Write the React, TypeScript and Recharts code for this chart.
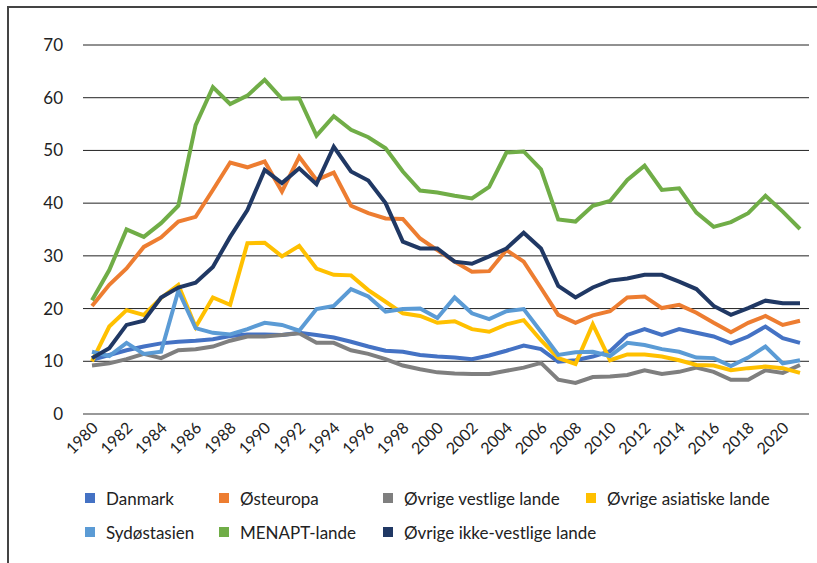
import { LineChart, Line, XAxis, YAxis, CartesianGrid } from 'recharts';

const years = [
  1980, 1981, 1982, 1983, 1984, 1985, 1986, 1987, 1988, 1989,
  1990, 1991, 1992, 1993, 1994, 1995, 1996, 1997, 1998, 1999,
  2000, 2001, 2002, 2003, 2004, 2005, 2006, 2007, 2008, 2009,
  2010, 2011, 2012, 2013, 2014, 2015, 2016, 2017, 2018, 2019,
  2020, 2021,
];

const danmark = [
  10.3, 11.2, 12.1, 12.8, 13.4, 13.7, 13.9, 14.2, 14.8, 15.1,
  15.1, 15.0, 15.4, 15.0, 14.5, 13.7, 12.8, 12.0, 11.8, 11.2,
  10.9, 10.7, 10.4, 11.1, 12.0, 13.0, 12.3, 9.9, 10.2, 10.9,
  11.9, 15.0, 16.1, 15.0, 16.1, 15.4, 14.7, 13.4, 14.7, 16.6,
  14.4, 13.5,
];

const osteuropa = [
  20.5, 24.5, 27.6, 31.7, 33.5, 36.5, 37.4, 42.5, 47.7, 46.8,
  47.9, 42.2, 48.8, 44.4, 45.8, 39.5, 38.1, 37.1, 37.0, 33.3,
  31.1, 28.9, 27.0, 27.1, 31.1, 28.9, 23.9, 18.8, 17.3, 18.7,
  19.5, 22.1, 22.3, 20.1, 20.7, 19.2, 17.3, 15.5, 17.3, 18.6,
  16.9, 17.7,
];

const vestlige = [
  9.2, 9.6, 10.4, 11.4, 10.6, 12.1, 12.3, 12.8, 13.9, 14.7,
  14.7, 15.0, 15.3, 13.5, 13.5, 12.1, 11.4, 10.4, 9.2, 8.5,
  7.9, 7.7, 7.6, 7.6, 8.2, 8.8, 9.7, 6.5, 5.9, 7.0,
  7.1, 7.4, 8.3, 7.6, 8.0, 8.8, 8.0, 6.5, 6.5, 8.3,
  7.8, 9.3,
];

const asiatiske = [
  10.0, 16.6, 19.7, 18.8, 22.0, 24.5, 16.5, 22.1, 20.7, 32.4,
  32.5, 29.9, 31.9, 27.6, 26.4, 26.3, 23.5, 21.3, 19.1, 18.6,
  17.3, 17.6, 16.1, 15.6, 17.0, 17.8, 14.0, 10.6, 9.5, 17.0,
  10.2, 11.3, 11.3, 10.9, 10.2, 9.3, 9.2, 8.3, 8.7, 9.0,
  8.7, 7.8,
];

const sydostasien = [
  11.8, 11.0, 13.5, 11.4, 11.8, 23.4, 16.3, 15.4, 15.1, 16.1,
  17.3, 16.9, 15.8, 19.9, 20.5, 23.7, 22.3, 19.4, 19.9, 20.0,
  18.2, 22.1, 19.1, 18.0, 19.5, 19.9, 15.6, 11.2, 11.7, 11.8,
  11.0, 13.5, 13.1, 12.3, 11.8, 10.7, 10.6, 9.1, 10.7, 12.8,
  9.6, 10.2,
];

const menapt = [
  21.6, 27.3, 35.0, 33.6, 36.2, 39.5, 54.8, 62.0, 58.8, 60.4,
  63.4, 59.8, 59.9, 52.8, 56.5, 53.9, 52.5, 50.4, 46.0, 42.4,
  42.0, 41.4, 40.9, 43.1, 49.6, 49.8, 46.4, 36.9, 36.5, 39.5,
  40.4, 44.4, 47.1, 42.5, 42.8, 38.2, 35.5, 36.4, 38.1, 41.4,
  38.4, 35.1,
];

const ikkeVestlige = [
  10.6, 12.5, 16.9, 17.7, 22.1, 24.0, 24.9, 27.9, 33.6, 38.7,
  46.3, 43.8, 46.6, 43.6, 50.7, 46.0, 44.3, 40.0, 32.7, 31.4,
  31.4, 28.9, 28.5, 29.9, 31.4, 34.4, 31.4, 24.3, 22.1, 24.0,
  25.3, 25.7, 26.4, 26.4, 25.1, 23.7, 20.5, 18.8, 20.1, 21.5,
  21.0, 21.0,
];

const yTicks = [0, 10, 20, 30, 40, 50, 60, 70];

const series = [
  { key: 'danmark', name: 'Danmark', color: '#4472C4', values: danmark },
  { key: 'osteuropa', name: 'Østeuropa', color: '#ED7D31', values: osteuropa },
  { key: 'vestlige', name: 'Øvrige vestlige lande', color: '#7F7F7F', values: vestlige },
  { key: 'asiatiske', name: 'Øvrige asiatiske lande', color: '#FFC000', values: asiatiske },
  { key: 'sydostasien', name: 'Sydøstasien', color: '#5B9BD5', values: sydostasien },
  { key: 'menapt', name: 'MENAPT-lande', color: '#70AD47', values: menapt },
  { key: 'ikkeVestlige', name: 'Øvrige ikke-vestlige lande', color: '#203864', values: ikkeVestlige },
];

const data = years.map((year, i) => {
  const row: Record<string, number | string> = { year: String(year) };
  series.forEach((s) => {
    row[s.key] = s.values[i];
  });
  return row;
});

const FONT = 'Lato, "Noto Sans", sans-serif';

// legend placement, two rows like the original
const legendRows = [
  [
    { i: 0, x: 85 },
    { i: 1, x: 219 },
    { i: 2, x: 383 },
    { i: 3, x: 586 },
  ],
  [
    { i: 4, x: 85 },
    { i: 5, x: 219 },
    { i: 6, x: 383 },
  ],
];

function YearTick(props: any) {
  const { x, y, payload } = props;
  const tx = x + 7;
  const ty = y + 13;
  return (
    <text
      x={tx}
      y={ty}
      textAnchor="end"
      fontSize={16}
      fill="#222"
      fontFamily={FONT}
      transform={`rotate(-45, ${tx}, ${ty})`}
    >
      {payload.value}
    </text>
  );
}

export default function App() {
  return (
    <div
      style={{
        position: 'absolute',
        left: 0,
        top: 0,
        width: 817,
        height: 563,
        background: '#fff',
        fontFamily: FONT,
        overflow: 'hidden',
      }}
    >
      <div
        style={{
          position: 'absolute',
          left: 7,
          top: 6,
          width: 830,
          height: 580,
          borderTop: '2px solid #444',
          borderLeft: '2px solid #444',
        }}
      />
      <LineChart
        width={817}
        height={563}
        data={data}
        margin={{ top: 45, right: 8, left: 0, bottom: 0 }}
        style={{ position: 'absolute', left: 0, top: 0 }}
      >
        <CartesianGrid vertical={false} stroke="#222" strokeWidth={1} />
        <XAxis
          dataKey="year"
          interval={1}
          height={149}
          padding={{ left: 9, right: 9 }}
          axisLine={{ stroke: '#999', strokeWidth: 2 }}
          tickLine={false}
          tickSize={0}
          tick={<YearTick />}
        />
        <YAxis
          width={83}
          domain={[0, 70]}
          ticks={yTicks}
          axisLine={false}
          tickLine={false}
          tickSize={0}
          tickMargin={20}
          tick={{ fontSize: 17, fill: '#222', fontFamily: FONT }}
        />
        {series.map((s) => (
          <Line
            key={s.key}
            dataKey={s.key}
            name={s.name}
            stroke={s.color}
            strokeWidth={4}
            dot={false}
            activeDot={false}
            isAnimationActive={false}
          />
        ))}
      </LineChart>
      {legendRows.map((row, r) =>
        row.map(({ i, x }) => (
          <div
            key={series[i].key}
            style={{
              position: 'absolute',
              left: x,
              top: 487 + r * 34,
              height: 22,
              display: 'flex',
              alignItems: 'center',
              fontSize: 17,
              color: '#222',
              whiteSpace: 'nowrap',
            }}
          >
            <span
              style={{
                display: 'inline-block',
                width: 10,
                height: 10,
                background: series[i].color,
                marginRight: 11,
              }}
            />
            {series[i].name}
          </div>
        ))
      )}
    </div>
  );
}
